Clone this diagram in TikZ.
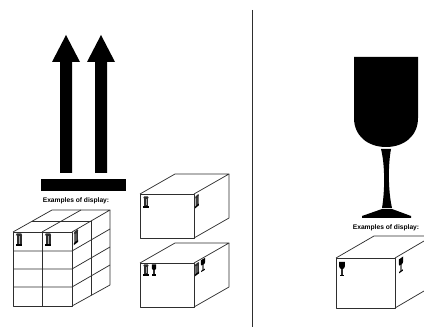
\documentclass[tikz,border=0pt]{standalone}
\usepackage{fontspec}
\setmainfont{Liberation Sans}
\usepackage{xcolor}
\usetikzlibrary{positioning}
\definecolor{inkline}{gray}{0.18}
\begin{document}
\begin{tikzpicture}[
  x=0.75pt, y=-0.75pt,
  every node/.style={font=\bfseries\fontsize{5pt}{6pt}\selectfont},
  crate/.style={draw=inkline, line width=0.55pt, line join=round},
  solid ink/.style={fill=black, draw=none},
  pics/upsign/.style={code={
    \fill[inkline] (-2.5,-5) rectangle (2.5,5);
    \fill[gray!70] (-0.4,-3.5) rectangle (0.4,4);
    \fill[inkline] (-2.3,-6.5) -- (2.3,-6.5) -- (3.2,-4.5) -- (-3.2,-4.5) -- cycle;
    \fill[black] (-3.2,4.5) rectangle (3.2,6.5);
  }},
  pics/cupsign/.style={code={
    \fill[black] (-2.8,-7) -- (2.8,-7) -- (2.8,-2.5) .. controls (2.8,-0.5) and (1.5,0) .. (0,0) .. controls (-1.5,0) and (-2.8,-0.5) .. (-2.8,-2.5) -- cycle;
    \fill[inkline] (-0.8,0) rectangle (0.8,6);
    \fill[black] (-2.4,5.6) rectangle (2.4,7);
  }}
]
  \useasboundingbox (0,0) rectangle (424,327);
  \fill[white] (0,0) rectangle (424,327);

  % divider
  \coordinate (divtop) at (252,10);
  \coordinate (divbot) at (252,327);
  \draw[inkline, line width=0.7pt] (divtop) -- (divbot);

  % arrows sign
  \foreach \x in {66,101}
    \fill[solid ink] (\x-6,173) -- (\x-6,62) -- (\x-14,62) -- (\x,35) -- (\x+14,62) -- (\x+6,62) -- (\x+6,173) -- cycle;
  \fill[solid ink] (41,179) rectangle (126,191);
  \node (lefttext) at (76,201) {Examples of display:};

  % stack of crates
  \draw[crate] (13,232) rectangle (72,306);
  \draw[crate] (13,232) -- (52,210) -- (110,210) -- (72,232);
  \draw[crate] (110,210) -- (110,285) -- (72,306);
  \foreach \y in {251,269,287}
    \draw[crate] (13,\y) -- (72,\y) -- (110,\y-22);
  \draw[crate] (42,232) -- (42,306);
  \draw[crate] (42,232) -- (81,210);
  \draw[crate] (32,221) -- (91,221);
  \draw[crate] (91,221) -- (91,295);
  \pic at (19,240) {upsign};
  \pic at (48,240) {upsign};
  \pic[xscale=0.7, yslant=0.55] at (76,237) {upsign};

  % crate with one sign
  \draw[crate] (140,194) rectangle (194,238);
  \draw[crate] (140,194) -- (175,174) -- (229,174) -- (194,194);
  \draw[crate] (229,174) -- (229,218) -- (194,238);
  \pic[scale=0.85] at (146,202) {upsign};
  \pic[xscale=0.6, yscale=0.9, yslant=0.55] at (197,201) {upsign};

  % crate with two signs
  \draw[crate] (140,263) rectangle (194,307);
  \draw[crate] (140,263) -- (175,243) -- (229,243) -- (194,263);
  \draw[crate] (229,243) -- (229,287) -- (194,307);
  \pic[scale=0.85] at (146,270) {upsign};
  \pic[scale=0.8] at (154,270) {cupsign};
  \pic[xscale=0.7, yscale=0.9, yslant=0.55] at (197,269) {upsign};
  \pic[xscale=0.8, yscale=0.85, yslant=0.55] at (203,265) {cupsign};

  % glass sign
  \fill[solid ink] (354,57) -- (418,57) -- (418,118) .. controls (418,136) and (404,147) .. (386,147) .. controls (368,147) and (354,136) .. (354,118) -- cycle;
  \fill[solid ink] (381,149) -- (391,149) .. controls (388,165) and (388,190) .. (392,208) -- (382,208) .. controls (385,190) and (385,165) .. (381,149) -- cycle;
  \fill[solid ink] (382,209) -- (392,209) -- (411,216) -- (411,218) -- (362,218) -- (362,216) -- cycle;
  \node (righttext) at (386,228) {Examples of display:};

  % crate with glass sign
  \draw[crate] (336,258) rectangle (395,308);
  \draw[crate] (336,258) -- (374,236) -- (424,236);
  \draw[crate] (395,258) -- (424,241);
  \draw[crate] (395,308) -- (424,291);
  \pic at (342,269) {cupsign};
  \pic[xscale=0.8, yslant=0.55] at (401,265) {cupsign};
\end{tikzpicture}
\end{document}
